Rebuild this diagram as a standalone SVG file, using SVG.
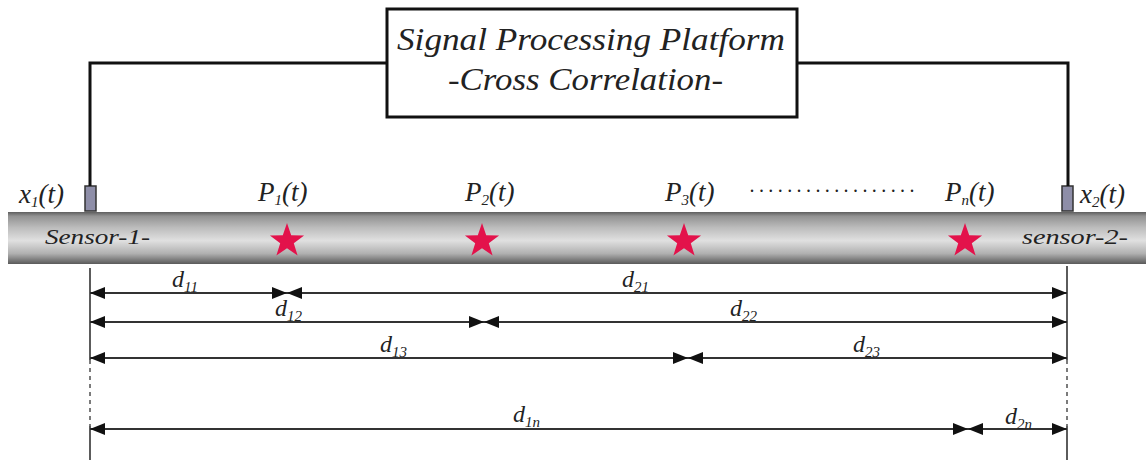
<svg xmlns="http://www.w3.org/2000/svg" width="1146" height="461" viewBox="0 0 1146 461">
  <style>
    .lbl { font-family: "Liberation Serif", "DejaVu Serif", serif; font-style: italic; fill: #222; }
    .sig { font-size: 27px; }
    .dim { font-size: 24px; }
    .sub { font-size: 15px; }
    .wire { fill: none; stroke: #111; stroke-width: 3; }
    .dimline { stroke: #333; stroke-width: 2; fill: none; marker-start: url(#arrow); marker-end: url(#arrow); }
    .ext { stroke: #333; stroke-width: 1.6; fill: none; }
    .extdash { stroke: #444; stroke-width: 1.4; fill: none; stroke-dasharray: 4 4; }
    .sensor { fill: #8e8ea8; stroke: #333; stroke-width: 1.5; }
    .leak { fill: #e3124b; }
  </style>
  <defs>
    <linearGradient id="pipeShade" x1="0" y1="0" x2="0" y2="1">
      <stop offset="0" stop-color="#5e5e5e"/>
      <stop offset="0.08" stop-color="#929292"/>
      <stop offset="0.3" stop-color="#bcbcbc"/>
      <stop offset="0.55" stop-color="#e0e0e0"/>
      <stop offset="0.8" stop-color="#b0b0b0"/>
      <stop offset="1" stop-color="#5a5a5a"/>
    </linearGradient>
    <marker id="arrow" viewBox="0 0 15 12" refX="15" refY="6" markerWidth="15" markerHeight="12" markerUnits="userSpaceOnUse" orient="auto-start-reverse">
      <path d="M0,0 L15,6 L0,12 z" fill="#111"/>
    </marker>
    <polygon id="star" points="0,-18 4.2,-5.8 17.1,-5.6 6.8,2.2 10.6,14.6 0,7.2 -10.6,14.6 -6.8,2.2 -17.1,-5.6 -4.2,-5.8"/>
  </defs>

  <rect width="1146" height="461" fill="#ffffff"/>

  <!-- processing box -->
  <g id="platform">
    <rect x="387" y="9" width="410" height="108" fill="#fff" stroke="#111" stroke-width="3"/>
    <text class="lbl" x="397" y="50" font-size="32" textLength="388" lengthAdjust="spacingAndGlyphs">Signal Processing Platform</text>
    <text class="lbl" x="448" y="90" font-size="32" textLength="275" lengthAdjust="spacingAndGlyphs">-Cross Correlation-</text>
  </g>

  <!-- pipe -->
  <g id="pipe">
    <rect x="8" y="212" width="1138" height="52" fill="url(#pipeShade)"/>
    <text class="lbl" x="45" y="244" font-size="22" textLength="105" lengthAdjust="spacingAndGlyphs">Sensor-1-</text>
    <text class="lbl" x="1022" y="244" font-size="22" textLength="106" lengthAdjust="spacingAndGlyphs">sensor-2-</text>
  </g>

  <!-- sensors -->
  <g id="sensor-1">
    <rect class="sensor" x="85" y="186" width="11" height="25"/>
    <text class="lbl sig" x="19" y="203">x<tspan class="sub" dy="4">1</tspan><tspan dy="-4">(t)</tspan></text>
  </g>
  <g id="sensor-2">
    <rect class="sensor" x="1062" y="186" width="11" height="25"/>
    <text class="lbl sig" x="1080" y="203" fill="#334">x<tspan class="sub" dy="4">2</tspan><tspan dy="-4">(t)</tspan></text>
  </g>

  <!-- leak sources -->
  <g id="leak-1">
    <use href="#star" class="leak" x="287" y="241"/>
    <text class="lbl sig" x="258" y="201">P<tspan class="sub" dy="4">1</tspan><tspan dy="-4">(t)</tspan></text>
  </g>
  <g id="leak-2">
    <use href="#star" class="leak" x="482" y="241"/>
    <text class="lbl sig" x="465" y="201">P<tspan class="sub" dy="4">2</tspan><tspan dy="-4">(t)</tspan></text>
  </g>
  <g id="leak-3">
    <use href="#star" class="leak" x="684" y="241"/>
    <text class="lbl sig" x="665" y="201">P<tspan class="sub" dy="4">3</tspan><tspan dy="-4">(t)</tspan></text>
  </g>
  <text class="lbl" x="750" y="192" font-size="20" textLength="165" lengthAdjust="spacing">..................</text>
  <g id="leak-n">
    <use href="#star" class="leak" x="965" y="241"/>
    <text class="lbl sig" x="945" y="201">P<tspan class="sub" dy="4">n</tspan><tspan dy="-4">(t)</tspan></text>
  </g>

  <!-- wiring and distance dimensions -->
  <g id="connectors">
    <polyline class="wire" points="387,63 90,63 90,186"/>
    <polyline class="wire" points="797,63 1068,63 1068,186"/>

    <line class="ext" x1="90" y1="268" x2="90" y2="360"/>
    <line class="extdash" x1="90" y1="360" x2="90" y2="426"/>
    <line class="ext" x1="90" y1="426" x2="90" y2="460"/>
    <line class="ext" x1="1067" y1="266" x2="1067" y2="360"/>
    <line class="extdash" x1="1067" y1="360" x2="1067" y2="426"/>
    <line class="ext" x1="1067" y1="426" x2="1067" y2="460"/>

    <line class="dimline" x1="90" y1="293" x2="287" y2="293"/>
    <line class="dimline" x1="287" y1="293" x2="1067" y2="293"/>
    <line class="dimline" x1="90" y1="322" x2="484" y2="322"/>
    <line class="dimline" x1="484" y1="322" x2="1067" y2="322"/>
    <line class="dimline" x1="90" y1="358" x2="688" y2="358"/>
    <line class="dimline" x1="688" y1="358" x2="1067" y2="358"/>
    <line class="dimline" x1="90" y1="429" x2="968" y2="429"/>
    <line class="dimline" x1="968" y1="429" x2="1067" y2="429"/>
  </g>

  <!-- distance labels -->
  <g id="distance-labels">
    <text class="lbl dim" x="172" y="287">d<tspan class="sub" dy="5">11</tspan></text>
    <text class="lbl dim" x="622" y="287">d<tspan class="sub" dy="5">21</tspan></text>
    <text class="lbl dim" x="275" y="316">d<tspan class="sub" dy="5">12</tspan></text>
    <text class="lbl dim" x="730" y="316">d<tspan class="sub" dy="5">22</tspan></text>
    <text class="lbl dim" x="380" y="352">d<tspan class="sub" dy="5">13</tspan></text>
    <text class="lbl dim" x="853" y="352">d<tspan class="sub" dy="5">23</tspan></text>
    <text class="lbl dim" x="513" y="422">d<tspan class="sub" dy="5">1n</tspan></text>
    <text class="lbl dim" x="1005" y="424">d<tspan class="sub" dy="5">2n</tspan></text>
  </g>
</svg>
